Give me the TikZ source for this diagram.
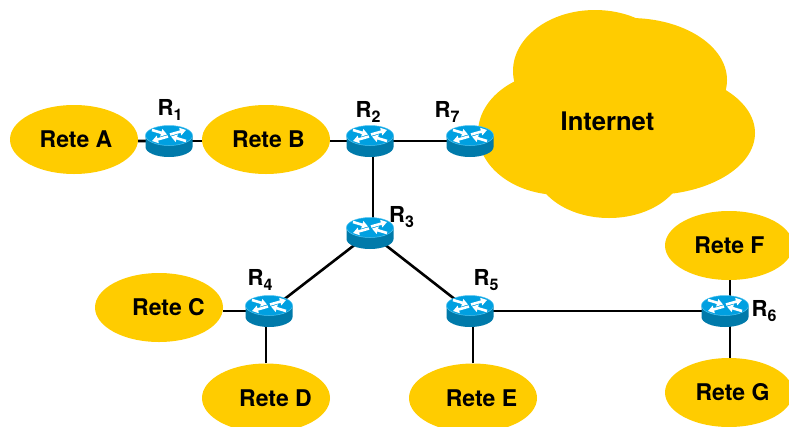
\documentclass[tikz,border=0pt]{standalone}
\usepackage{fontspec}
\setmainfont{TeX Gyre Heros}
\usetikzlibrary{backgrounds,shapes.geometric,arrows.meta}
\definecolor{netyellow}{RGB}{255,204,0}
\definecolor{routertop}{RGB}{0,160,225}
\definecolor{routerrim}{RGB}{80,195,240}
\definecolor{routerside}{RGB}{0,122,170}
\newcommand{\nettext}[2]{\makebox[0pt][c]{\hspace*{#1pt}#2}}
\newcommand{\rname}[1]{R\raisebox{-5pt}{\fontsize{16}{16}\selectfont #1}}
\tikzset{
  x=1pt,y=-1pt,
  net/.style={ellipse,fill=netyellow,inner sep=0pt,minimum width=128pt,minimum height=69pt,font=\bfseries\fontsize{23}{26}\selectfont},
  link/.style={line width=2.6pt,black},
  rlabel/.style={font=\bfseries\fontsize{22}{24}\selectfont,inner sep=0pt,anchor=base west},
  rarrow/.style={white,line width=2.6pt,-{Triangle[length=6pt,width=7.5pt]}},
  router/.pic={
    \fill[routerside] (-23.5,-5.5) -- (-23.5,6) arc[start angle=180,end angle=0,x radius=23.5,y radius=10] -- (23.5,-5.5) -- cycle;
    \fill[routertop,draw=routerrim,line width=0.5pt] (0,-5.5) ellipse[x radius=23.5,y radius=10];
    \draw[rarrow] (1,-6.5) -- (17,-11);
    \draw[rarrow] (-1,-4.5) -- (-17,0);
    \draw[rarrow] (-17,-11) -- (-2,-6.5);
    \draw[rarrow] (17,0) -- (2,-4.5);
  }
}
\begin{document}
\begin{tikzpicture}
\useasboundingbox (0,0) rectangle (789,426);
% cloud
\fill[netyellow] (595,71) ellipse[x radius=82,y radius=61];
\fill[netyellow] (630,80) ellipse[x radius=97,y radius=62];
\fill[netyellow] (560,133) ellipse[x radius=82,y radius=62];
\fill[netyellow] (650,133) ellipse[x radius=105,y radius=62];
\fill[netyellow] (609,165) ellipse[x radius=75,y radius=53];
\node[font=\bfseries\fontsize{25.6}{30}\selectfont,inner sep=0pt] (inet) at (607.5,121) {Internet};
\coordinate (inetw) at (490,141);
% networks
\node[net] (A) at (74,139.5) {\nettext{4}{Rete A}};
\node[net] (B) at (266,139.5) {\nettext{5}{Rete B}};
\node[net] (C) at (159,307.5) {\nettext{19}{Rete C}};
\node[net] (D) at (266,398) {\nettext{19}{Rete D}};
\node[net] (E) at (473,398) {\nettext{17}{Rete E}};
\node[net] (F) at (729,245.5) {\nettext{1}{Rete F}};
\node[net] (G) at (729,392.5) {\nettext{7}{Rete G}};
% routers
\node[inner sep=0pt] (R1) at (169,141) {};
\node[inner sep=0pt] (R2) at (370,141) {};
\node[inner sep=0pt] (R7) at (470,141) {};
\node[inner sep=0pt] (R3) at (370,233) {};
\node[inner sep=0pt] (R4) at (269,311) {};
\node[inner sep=0pt] (R5) at (470,311) {};
\node[inner sep=0pt] (R6) at (725,311) {};
\foreach \r in {R1,R2,R7,R3,R4,R5,R6} \pic at (\r) {router};
% labels
\node[rlabel] (L1) at (157.5,115) {\rname{1}};
\node[rlabel] (L2) at (355.5,117) {\rname{2}};
\node[rlabel] (L7) at (434.5,117) {\rname{7}};
\node[rlabel] (L3) at (389,222) {\rname{3}};
\node[rlabel] (L4) at (247.5,285) {\rname{4}};
\node[rlabel] (L5) at (473.5,285) {\rname{5}};
\node[rlabel] (L6) at (751.5,316) {\rname{6}};
% connectors
\begin{scope}[on background layer]
\draw[link] (A) -- (A.east |- R1) -- (R1);
\draw[link] (R1) -- (B.west |- R1);
\draw[link] (B.east |- R2) -- (R2);
\draw[link] (R2) -- (R7);
\draw[link] (R7) -- (inetw);
\draw[link] ([xshift=3pt]R2.center) -- ([xshift=3pt]R3.center);
\draw[link] (R3) -- (R4);
\draw[link] (R3) -- (R5);
\draw[link] (R4) -- (C.east |- R4);
\draw[link] (D.north) -- (D.north |- R4);
\draw[link] (E.north) -- (E.north |- R5);
\draw[link] (R5) -- (R6);
\draw[link] ([xshift=1pt]F.south) -- ([xshift=1pt]F.south |- R6);
\draw[link] ([xshift=1pt]G.north) -- ([xshift=1pt]G.north |- R6);
\end{scope}
\end{tikzpicture}
\end{document}
